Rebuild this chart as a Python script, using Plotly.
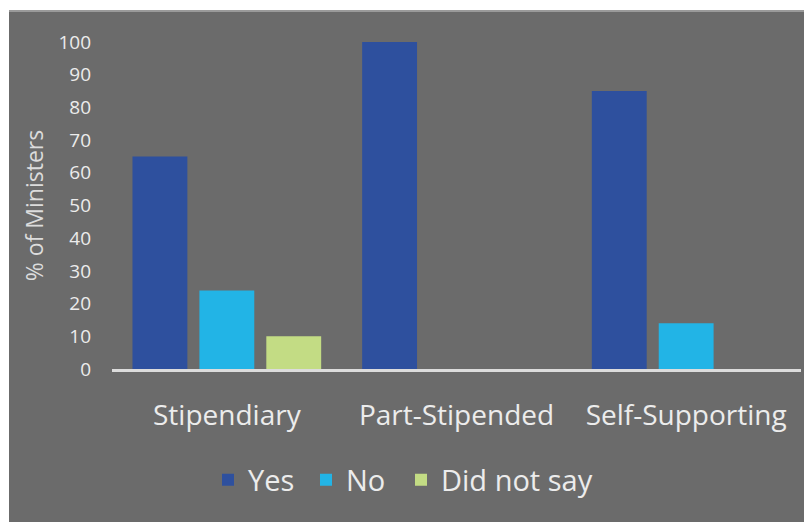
import plotly.graph_objects as go

categories = ["Stipendiary", "Part-Stipended", "Self-Supporting"]
yes_vals = [65, 100, 85]
no_vals = [24, 0, 14]
dns_vals = [10, 0, 0]
y_ticks = [0, 10, 20, 30, 40, 50, 60, 70, 80, 90, 100]

BG = "#6b6b6b"
TXT = "#ececec"
FONT = "Open Sans, Noto Sans, sans-serif"

W, H = 804, 522
L, R, T, B = 112, 3, 42, 153
pw = W - L - R
ph = H - T - B

def px_x(x):
    return (x - L) / pw

def px_y(y):
    return (H - B - y) / ph

fig = go.Figure()
fig.add_bar(name="Yes", x=categories, y=yes_vals, marker=dict(color="#2e509e", line=dict(width=0)),
            legend="legend")
fig.add_bar(name="No", x=categories, y=no_vals, marker=dict(color="#22b4e6", line=dict(width=0)),
            legend="legend2")
fig.add_bar(name="Did not say", x=categories, y=dns_vals, marker=dict(color="#c3dc84", line=dict(width=0)),
            legend="legend3")

def leg(xpx):
    return dict(orientation="h", x=px_x(xpx), xanchor="left", y=px_y(480), yanchor="middle",
                font=dict(size=29, color=TXT, family=FONT), bgcolor="rgba(0,0,0,0)",
                itemwidth=30)

fig.update_layout(
    width=W, height=H,
    margin=dict(l=L, r=R, t=T, b=B, pad=0, autoexpand=False),
    paper_bgcolor=BG, plot_bgcolor=BG,
    barmode="group", bargap=0.126, bargroupgap=0.18,
    font=dict(family=FONT, color=TXT),
    showlegend=True,
    legend=leg(208), legend2=leg(306), legend3=leg(401),
    shapes=[
        dict(type="rect", xref="paper", yref="paper", x0=px_x(0), x1=px_x(W), y0=px_y(10), y1=px_y(0),
             fillcolor="white", line=dict(width=0), layer="above"),
        dict(type="rect", xref="paper", yref="paper", x0=px_x(0), x1=px_x(9), y0=px_y(H), y1=px_y(0),
             fillcolor="white", line=dict(width=0), layer="above"),
        dict(type="line", xref="paper", yref="paper", x0=px_x(9), x1=px_x(W), y0=px_y(11), y1=px_y(11),
             line=dict(color="#9a9a9a", width=2), layer="above"),
    ],
)

fig.update_xaxes(
    showgrid=False, zeroline=False, showline=True, linecolor="#dcdcdc", linewidth=3,
    ticks="", tickfont=dict(size=28, color=TXT, family=FONT), ticklabelstandoff=19,
)
fig.update_yaxes(
    range=[0, 100], tickvals=y_ticks, showgrid=False, zeroline=False, showline=False,
    ticks="", tickfont=dict(size=19, color=TXT, family=FONT), ticklabelstandoff=20,
    title=dict(text="% of Ministers", font=dict(size=23, color="#dcdcdc", family=FONT), standoff=8),
)

fig.write_html(
    "out.html", config={"displayModeBar": False},
    post_script=("document.body.style.margin='0';document.body.style.overflow='hidden';"
                 "document.body.style.background='%s';"
                 "document.documentElement.style.background='%s';" % (BG, BG)),
)
